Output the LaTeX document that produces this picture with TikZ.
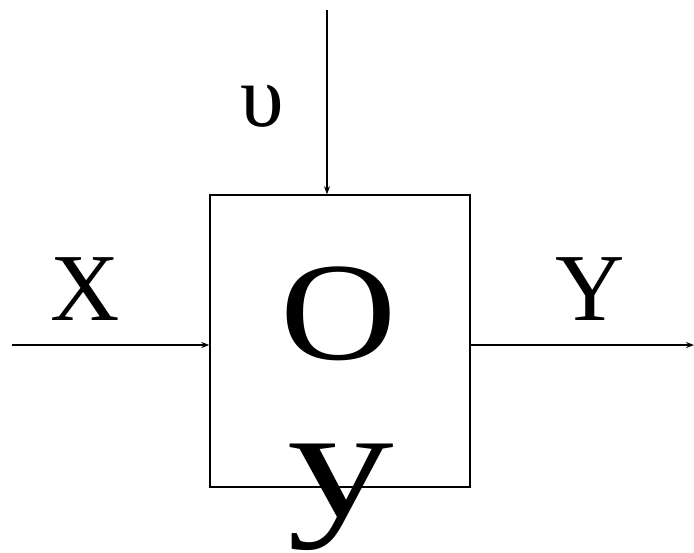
\documentclass[tikz,border=0pt]{standalone}
\usepackage{fontspec}
\setmainfont{Liberation Serif}
\usetikzlibrary{arrows.meta,positioning}

\begin{document}
\begin{tikzpicture}[x=1pt,y=-1pt,>={Stealth[length=8pt,width=6pt]},line width=1.5pt,
  lbl/.style={inner sep=0pt,anchor=base,font=\fontsize{96}{96}\selectfont},
  big/.style={inner sep=0pt,anchor=base,font=\fontsize{140}{140}\selectfont}]
\useasboundingbox (0,0) rectangle (694,552);
\node[draw,minimum width=260pt,minimum height=292pt,inner sep=0pt] (obj) at (340,341) {};
\coordinate (xin) at (12,345);
\coordinate (yout) at (694,345);
\coordinate (vin) at (327,10);
\draw[->] (xin) -- (xin -| obj.west);
\draw[->] (yout -| obj.east) -- (yout);
\draw[->] (vin) -- (vin |- obj.north);
\node[lbl] (xlab) at (85,320) {X};
\node[lbl] (ylab) at (590,320) {Y};
\node[lbl,font=\fontsize{88}{88}\selectfont] (vlab) at (262,126) {υ};
\node[big,xscale=1.15] (olab) at (339,359) {О};
\node[big,font=\fontsize{158}{158}\selectfont,xscale=1.35] (ulab) at (341,516) {у};
\end{tikzpicture}
\end{document}
